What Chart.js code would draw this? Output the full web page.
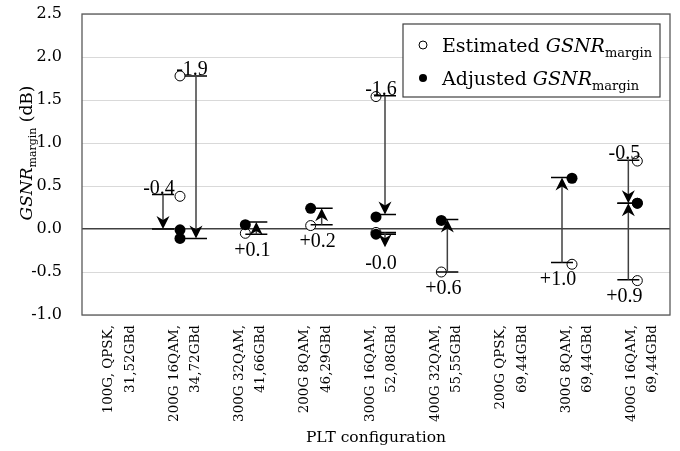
<!DOCTYPE html>
<html><head><meta charset="utf-8">
<script src="https://cdn.jsdelivr.net/npm/chart.js@4.4.0/dist/chart.umd.min.js"></script>
<style>html,body{margin:0;padding:0;background:#fff;}#wrap{width:680px;height:451px;position:relative}</style>
</head><body><div id="wrap"><canvas id="c" width="680" height="451"></canvas></div>
<script>
// ---- data ----
const categories = [
  ["100G, QPSK,", "31,52GBd"],
  ["200G 16QAM,", "34,72GBd"],
  ["300G 32QAM,", "41,66GBd"],
  ["200G 8QAM,", "46,29GBd"],
  ["300G 16QAM,", "52,08GBd"],
  ["400G 32QAM,", "55,55GBd"],
  ["200G QPSK,", "69,44GBd"],
  ["300G 8QAM,", "69,44GBd"],
  ["400G 16QAM,", "69,44GBd"]
];
const yTickValues = [-1.0, -0.5, 0.0, 0.5, 1.0, 1.5, 2.0, 2.5];
const estimatedA = [null, 0.38, -0.05, 0.04, 1.54, -0.50, null, -0.41, 0.79];
const estimatedB = [null, 1.78, null, null, -0.04, null, null, null, -0.60];
const adjustedA  = [null, -0.01, 0.05, 0.24, 0.14, 0.10, null, 0.59, 0.30];
const adjustedB  = [null, -0.11, null, null, -0.06, null, null, null, 0.30];
const arrowCategory = [1, 1, 2, 3, 4, 4, 5, 7, 8, 8];
const arrowFrom = [0.40, 1.78, -0.06, 0.05, 1.55, -0.04, -0.50, -0.39, 0.80, -0.59];
const arrowTo   = [0.00, -0.11, 0.08, 0.24, 0.17, -0.06, 0.11, 0.60, 0.30, 0.30];
const arrowLabels = ["-0.4", "-1.9", "+0.1", "+0.2", "-1.6", "-0.0", "+0.6", "+1.0", "-0.5", "+0.9"];

// ---- styling (not data) ----
const arrowShiftPx = [-17, 16, 11, 11, 9, 9, 6, -10, -9, -9];
const arrowLabelSide = ['above','above','below','below','above','below','below','below','above','below'];
const SERIF = "'DejaVu Serif', serif";
const TIMES = "'Liberation Serif', serif";

const arrowsPlugin = {
  id: 'arrows',
  afterDatasetsDraw(chart) {
    const ctx = chart.ctx, xs = chart.scales.x, ys = chart.scales.y;
    const headL = 13, headW = 6.5, capW = 11;
    ctx.save();
    for (let i = 0; i < arrowFrom.length; i++) {
      const x = xs.getPixelForValue(arrowCategory[i]) + arrowShiftPx[i];
      const y0 = ys.getPixelForValue(arrowFrom[i]);
      const y1 = ys.getPixelForValue(arrowTo[i]);
      const dir = y1 >= y0 ? 1 : -1;
      let tip = y1;
      if (Math.abs(y1 - y0) < 6) tip = y1 + dir * headL;
      ctx.strokeStyle = '#000'; ctx.lineWidth = 1.5;
      ctx.beginPath();
      ctx.moveTo(x - capW, y0); ctx.lineTo(x + capW, y0);
      ctx.moveTo(x - capW, y1); ctx.lineTo(x + capW, y1);
      ctx.stroke();
      ctx.strokeStyle = '#404040'; ctx.lineWidth = 1.5;
      ctx.beginPath();
      ctx.moveTo(x, y0); ctx.lineTo(x, tip - dir * 8);
      ctx.stroke();
      ctx.fillStyle = '#000';
      ctx.beginPath();
      ctx.moveTo(x, tip);
      ctx.lineTo(x - headW, tip - dir * headL);
      ctx.lineTo(x, tip - dir * (headL - 4));
      ctx.lineTo(x + headW, tip - dir * headL);
      ctx.closePath();
      ctx.fill();
      ctx.font = '20px ' + TIMES;
      ctx.fillStyle = '#000';
      ctx.textAlign = 'center';
      ctx.textBaseline = 'alphabetic';
      const lx = x - 4;
      if (arrowLabelSide[i] === 'above') {
        ctx.fillText(arrowLabels[i], lx, Math.min(y0, y1, tip) - 1);
      } else {
        ctx.fillText(arrowLabels[i], lx, Math.max(y0, y1, tip) + 22);
      }
    }
    ctx.restore();
  }
};

function drawRich(ctx, parts, x, y) {
  let cx = x;
  for (const p of parts) {
    ctx.font = p[1];
    ctx.fillText(p[0], cx, y + p[2]);
    cx += ctx.measureText(p[0]).width;
  }
  return cx;
}
function richWidth(ctx, parts) {
  let w = 0;
  for (const p of parts) { ctx.font = p[1]; w += ctx.measureText(p[0]).width; }
  return w;
}

const decorPlugin = {
  id: 'decor',
  afterDraw(chart) {
    const ctx = chart.ctx, a = chart.chartArea;
    ctx.save();
    ctx.strokeStyle = '#595959'; ctx.lineWidth = 1.3;
    ctx.strokeRect(a.left, a.top, a.right - a.left, a.bottom - a.top);
    ctx.fillStyle = '#000';
    ctx.textBaseline = 'alphabetic';
    ctx.textAlign = 'left';
    const yParts = [
      ['GSNR', 'italic 17px ' + SERIF, 0],
      ['margin', '11px ' + SERIF, 4],
      [' (dB)', '17px ' + SERIF, 0]
    ];
    const w = richWidth(ctx, yParts);
    ctx.save();
    ctx.translate(32, 153);
    ctx.rotate(-Math.PI / 2);
    drawRich(ctx, yParts, -w / 2, 0);
    ctx.restore();
    ctx.font = '15.5px ' + SERIF;
    ctx.textAlign = 'center';
    ctx.fillText('PLT configuration', (a.left + a.right) / 2, 442);
    const lx = 403, ly = 24, lw = 257, lh = 73;
    ctx.fillStyle = '#fff';
    ctx.fillRect(lx, ly, lw, lh);
    ctx.strokeStyle = '#404040'; ctx.lineWidth = 1.2;
    ctx.strokeRect(lx, ly, lw, lh);
    const rows = [['Estimated ', false, 45], ['Adjusted ', true, 78]];
    ctx.textAlign = 'left';
    for (const r of rows) {
      ctx.beginPath();
      ctx.arc(423, r[2], 4, 0, Math.PI * 2);
      if (r[1]) { ctx.fillStyle = '#000'; ctx.fill(); }
      else { ctx.fillStyle = '#fff'; ctx.fill(); ctx.strokeStyle = '#000'; ctx.lineWidth = 1; ctx.stroke(); }
      ctx.fillStyle = '#000';
      drawRich(ctx, [
        [r[0], '19px ' + SERIF, 0],
        ['GSNR', 'italic 19px ' + SERIF, 0],
        ['margin', '13px ' + SERIF, 5]
      ], 442, r[2] + 7);
    }
    ctx.restore();
  }
};

const chart = new Chart(document.getElementById('c'), {
  type: 'line',
  data: {
    labels: categories,
    datasets: [
      { label: 'Adjusted A', data: adjustedA, showLine: false, pointRadius: 5.5, pointBackgroundColor: '#000', pointBorderColor: '#000', pointBorderWidth: 0 },
      { label: 'Adjusted B', data: adjustedB, showLine: false, pointRadius: 5.5, pointBackgroundColor: '#000', pointBorderColor: '#000', pointBorderWidth: 0 },
      { label: 'Estimated A', data: estimatedA, showLine: false, pointRadius: 5, pointBackgroundColor: '#fff', pointBorderColor: '#000', pointBorderWidth: 1 },
      { label: 'Estimated B', data: estimatedB, showLine: false, pointRadius: 5, pointBackgroundColor: '#fff', pointBorderColor: '#000', pointBorderWidth: 1 }
    ]
  },
  options: {
    responsive: false,
    animation: false,
    devicePixelRatio: 1,
    layout: { padding: { top: 14, right: 10, left: 0, bottom: 0 } },
    plugins: { legend: { display: false }, tooltip: { enabled: false } },
    scales: {
      x: {
        type: 'category',
        offset: true,
        grid: { display: false, drawTicks: false },
        border: { display: false },
        ticks: {
          autoSkip: false, minRotation: 90, maxRotation: 90, padding: 10, labelOffset: -6,
          color: '#000', font: { family: SERIF, size: 13.5, lineHeight: 1.6 }
        },
        afterFit(s) { s.height = 136; s.paddingLeft = 0; s.paddingRight = 0; }
      },
      y: {
        min: -1, max: 2.5,
        afterBuildTicks(s) { s.ticks = yTickValues.map(v => ({ value: v })); },
        grid: {
          drawTicks: false,
          color: c => (c.tick && c.tick.value === 0) ? '#404040' : '#d9d9d9',
          lineWidth: c => (c.tick && c.tick.value === 0) ? 1.5 : 1
        },
        border: { display: false },
        ticks: {
          padding: 20, color: '#000', font: { family: SERIF, size: 16 },
          callback: v => Number(v).toFixed(1)
        },
        afterFit(s) { s.width = 82; s.paddingTop = 0; s.paddingBottom = 0; }
      }
    }
  },
  plugins: [arrowsPlugin, decorPlugin]
});
</script>
</body></html>
